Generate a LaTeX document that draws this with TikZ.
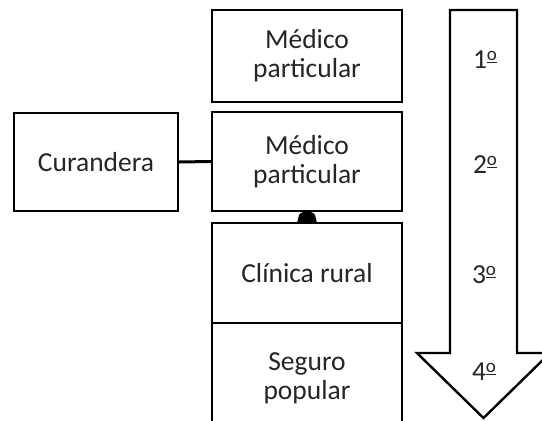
\documentclass[tikz,border=0pt]{standalone}
\usepackage{fontspec}
\setmainfont{Carlito}
\newcommand{\ordo}{\raisebox{0.3em}{\fontsize{19}{19}\selectfont\underline{o}}}
\begin{document}
\begin{tikzpicture}[x=1pt,y=-1pt,
  box/.style={draw=black,line width=2.4pt,minimum width=190pt,align=center,inner sep=0pt,
    font=\fontsize{27.5}{29}\selectfont,text=black!85},
  lbl/.style={font=\fontsize{27.5}{29}\selectfont,text=black!85}]
\useasboundingbox (0,0) rectangle (542,421);
\clip (0,0) rectangle (542,421);
\fill[white] (0,0) rectangle (542,421);
% boxes
\node[box,minimum height=92pt] (b1) at (307,56) {Médico\\particular};
\node[box,minimum height=99pt] (b2) at (307,161.5) {Médico\\particular};
\node[box,minimum height=100pt] (b3) at (307,273) {Clínica rural};
\node[box,minimum height=110pt] (b4) at (307,378) {Seguro\\popular};
\node[box,minimum width=164pt,minimum height=98pt] (cu) at (96,162) {Curandera};
% connector
\draw[line width=3pt] (cu.east) -- (b2.west);
\fill (297,223) -- (299,215) .. controls (301,210.5) and (313,210.5) .. (315,215) -- (317,223) -- cycle;
% big arrow
\draw[line width=2.4pt,fill=white,line join=miter]
  (450,10) -- (517,10) -- (517,353) -- (550,353) -- (483.5,418)
  -- (417,353) -- (450,353) -- cycle;
\node[lbl] (n1) at (485,60) {1\ordo};
\node[lbl] (n2) at (485,165) {2\ordo};
\node[lbl] (n3) at (484,275) {3\ordo};
\node[lbl] (n4) at (484,372) {4\ordo};
\end{tikzpicture}
\end{document}
